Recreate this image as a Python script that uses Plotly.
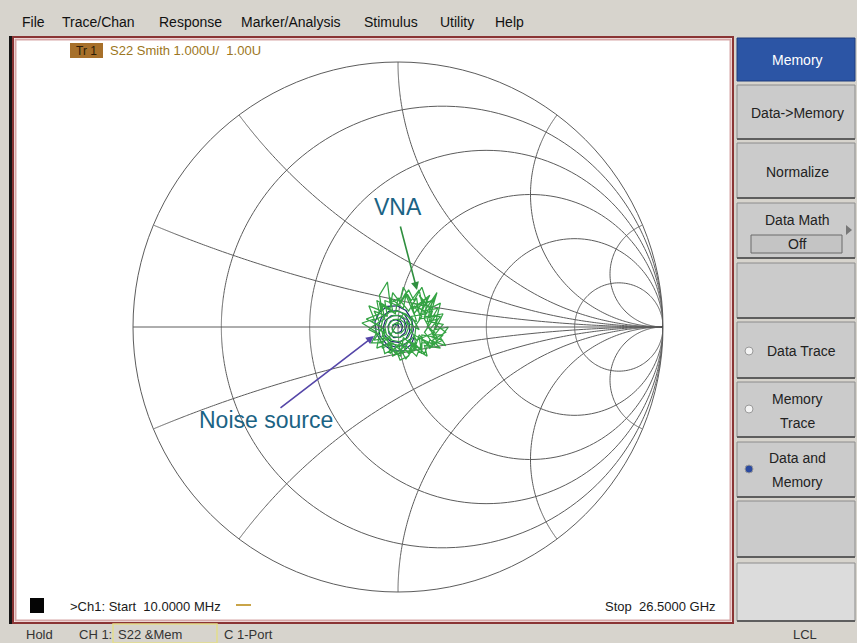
import numpy as np
import plotly.graph_objects as go

W, H = 857, 643

# ---------------- data (reflection coefficient S22) ----------------
# Memory trace ("Noise source"), navy
mem_re = [0.005, 0.000, -0.014, -0.022, -0.018, -0.004, 0.012, 0.018, 0.010, -0.008, -0.028, -0.038,
          -0.034, -0.016, 0.008, 0.026, 0.032, 0.022, 0.000, -0.026, -0.048, -0.056, -0.050, -0.028,
          0.002, 0.030, 0.044, 0.042, 0.024, -0.004, -0.036, -0.062, -0.074, -0.068, -0.044, -0.010,
          0.024, 0.048, 0.058, 0.052, 0.030, -0.004, -0.040, -0.070, -0.087, -0.082, -0.058, -0.020,
          0.020, 0.050, 0.064]
mem_im = [-0.005, 0.008, 0.010, -0.002, -0.018, -0.024, -0.016, 0.002, 0.020, 0.028, 0.022, 0.002,
          -0.024, -0.040, -0.038, -0.022, 0.004, 0.030, 0.044, 0.042, 0.024, -0.002, -0.032, -0.054,
          -0.058, -0.044, -0.016, 0.018, 0.048, 0.062, 0.058, 0.036, 0.004, -0.034, -0.064, -0.076,
          -0.068, -0.044, -0.010, 0.028, 0.062, 0.080, 0.078, 0.056, 0.020, -0.024, -0.064, -0.090,
          -0.090, -0.066, -0.030]

# Data trace ("VNA"), green
data_re = [0.015, 0.010, -0.005, -0.020, -0.022, -0.008, 0.012, 0.026, 0.024, 0.006, -0.018, -0.034,
           -0.036, -0.020, 0.006, 0.030, 0.040, 0.034, 0.012, -0.016, -0.040, -0.050, -0.044, -0.022,
           0.008, 0.036, 0.052, 0.052, 0.032, 0.000, -0.032, -0.056, -0.064, -0.056, -0.030, 0.006,
           0.040, 0.064, 0.068,
           0.090, 0.060, 0.100, 0.147, 0.120, 0.170, 0.140, 0.190, 0.160, 0.180, 0.120, 0.100, 0.060,
           0.040, 0.008, -0.010, -0.050, -0.060, -0.100, -0.080, -0.136, -0.090, -0.110, -0.060, -0.070,
           -0.040, -0.030, 0.010, 0.020, 0.050, 0.080, 0.090, 0.130, 0.110, 0.150, 0.130, 0.170, 0.120,
           0.080, 0.060, 0.020, -0.020, -0.030, -0.080, -0.070, -0.110, -0.070, -0.090, -0.040, -0.050,
           0.000, 0.030, 0.060, 0.110, 0.100, 0.150, 0.090, 0.070, 0.030, -0.010, -0.040,
           0.020, 0.070, 0.050, 0.100, 0.080, 0.120, 0.160, 0.140, 0.180, 0.130, 0.160, 0.100, 0.110,
           0.060, 0.030, 0.000, -0.030, -0.040, -0.090, -0.060, -0.120, -0.070, -0.080, -0.030, -0.020,
           0.010, 0.040, 0.060, 0.090, 0.110, 0.140, 0.100, 0.160, 0.120, 0.150, 0.090, 0.090, 0.040,
           0.020, -0.020, -0.060, -0.050, -0.100, -0.050, -0.060, -0.010, 0.000, 0.040, 0.070, 0.080,
           0.130, 0.110, 0.140, 0.070,
           0.030, 0.080, 0.050, 0.110, 0.070, 0.120, 0.090, 0.150, 0.120, 0.170, 0.130, 0.170, 0.120,
           0.080, 0.090, 0.050, 0.040, 0.010, -0.020, -0.030, -0.070, -0.050, -0.100, -0.060, -0.070,
           -0.020, -0.030, 0.020, 0.030, 0.060, 0.100, 0.080, 0.140, 0.100, 0.140, 0.060, 0.070, 0.020,
           0.010, -0.040]
data_im = [-0.005, 0.010, 0.016, 0.008, -0.010, -0.024, -0.022, -0.006, 0.016, 0.030, 0.028, 0.010,
           -0.014, -0.036, -0.040, -0.028, -0.002, 0.026, 0.042, 0.044, 0.030, 0.002, -0.028, -0.050,
           -0.056, -0.042, -0.014, 0.020, 0.048, 0.060, 0.056, 0.034, 0.000, -0.036, -0.062, -0.070,
           -0.058, -0.030, 0.008,
           0.040, 0.080, 0.060, 0.130, 0.040, 0.050, -0.010, 0.000, -0.040, -0.070, -0.050, -0.100, -0.060,
           -0.110, -0.125, -0.080, -0.100, -0.060, -0.060, -0.020, 0.015, 0.030, 0.080, 0.060, 0.120,
           0.170, 0.090, 0.110, 0.150, 0.100, 0.140, 0.090, 0.100, 0.020, 0.030, -0.030, -0.030, -0.080,
           -0.030, -0.090, -0.090, -0.110, -0.060, -0.080, -0.030, -0.010, 0.020, 0.060, 0.040, 0.100,
           0.080, 0.130, 0.070, 0.110, 0.030, -0.060, -0.060, -0.110, -0.070, -0.100, -0.050,
           0.050, 0.020, 0.090, 0.080, 0.120, 0.070, 0.090, 0.010, -0.020, -0.050, -0.080, -0.070, -0.110,
           -0.080, -0.120, -0.070, -0.100, -0.040, -0.050, 0.000, 0.030, 0.050, 0.100, 0.070, 0.130,
           0.090, 0.140, 0.100, 0.150, 0.090, 0.110, 0.040, 0.040, -0.010, -0.040, -0.030, -0.090, -0.050,
           -0.100, -0.060, -0.080, -0.020, 0.000, 0.030, 0.080, 0.050, 0.110, 0.060, 0.110, 0.050,
           0.060, 0.000, -0.020, -0.050,
           0.020, -0.010, 0.040, 0.050, 0.080, 0.120, 0.060, 0.070, 0.020, 0.010, -0.040, -0.050, -0.070,
           -0.040, -0.100, -0.070, -0.100, -0.060, -0.090, -0.040, -0.060, -0.010, 0.020, 0.040, 0.090,
           0.060, 0.110, 0.070, 0.120, 0.050, 0.100, 0.030, 0.040, -0.020, -0.070, -0.030, -0.080, -0.040,
           -0.110, -0.070]

# Smith grid values: constant-resistance circles and constant-reactance arcs
grid_r = [0.2, 0.5, 1, 2, 5]
grid_x = [0.2, 0.5, 1, 2, 5]

menu_items = ["File", "Trace/Chan", "Response", "Marker/Analysis", "Stimulus", "Utility", "Help"]


def to_z(re, im):
    g = np.array(re) + 1j * np.array(im)
    z = (1 + g) / (1 - g)
    return z.real, z.imag


# ---------------- helpers for pixel placement ----------------
def px(x):
    return x / W


def py(y):
    return 1 - y / H


shapes = []
annotations = []


def rect(x0, y0, x1, y1, fill=None, line=None, lw=1, layer="below"):
    shapes.append(dict(type="rect", xref="paper", yref="paper",
                       x0=px(x0), x1=px(x1), y0=py(y1), y1=py(y0),
                       fillcolor=fill if fill else "rgba(0,0,0,0)",
                       line=dict(color=line if line else "rgba(0,0,0,0)", width=lw if line else 0),
                       layer=layer))


def text(x, y, s, size=13, color="#222", anchor="left", family="Liberation Sans, Arial, sans-serif"):
    annotations.append(dict(x=px(x), y=py(y), xref="paper", yref="paper", text=s, showarrow=False,
                            xanchor=anchor, yanchor="middle",
                            font=dict(size=size, color=color, family=family)))


# ---------------- window chrome ----------------
rect(0, 0, W, 37, fill="#d7d4cd")
mx = [20, 60, 157, 239, 362, 438, 493]
for s, x in zip(menu_items, mx):
    text(x, 22, s, size=14, color="#111")

rect(9, 36, 13, 624, fill="#151515")
rect(13, 37, 733, 623, fill="#ffffff", line="#8a3434", lw=2)
rect(15.5, 39.5, 730.5, 620.5, line="#d7a8a8", lw=2)

buttons = [(38, 81), (85, 139), (143, 198), (203, 258), (263, 318), (322, 378), (382, 437),
           (442, 497), (501, 557), (563, 621)]
for i, (y0, y1) in enumerate(buttons):
    if i == 0:
        rect(737, y0, 855, y1, fill="#2c55a5", line="#1f3d7c", lw=1)
    else:
        fill = "#dcdcdc" if i == len(buttons) - 1 else "#cbcbcb"
        rect(737, y0, 855, y1, fill=fill, line="#8c8c8c", lw=1)
        shapes.append(dict(type="line", xref="paper", yref="paper", x0=px(737), x1=px(855),
                           y0=py(y1), y1=py(y1), line=dict(color="#5e5e5e", width=2), layer="below"))

text(797, 60, "Memory", size=14, color="#ffffff", anchor="center")
text(797, 113, "Data-&gt;Memory", size=14, anchor="center")
text(797, 172, "Normalize", size=14, anchor="center")
text(797, 220, "Data Math", size=14, anchor="center")
rect(751, 235, 842, 253, fill="#c4c4c4", line="#6a6a6a", lw=1)
text(797, 244, "Off", size=14, anchor="center")
shapes.append(dict(type="path", xref="paper", yref="paper",
                   path=f"M {px(846)},{py(225)} L {px(852)},{py(230)} L {px(846)},{py(235)} Z",
                   fillcolor="#777777", line=dict(width=0)))
text(801, 351, "Data Trace", size=14, anchor="center")
text(797, 399, "Memory", size=14, anchor="center")
text(797, 423, "Trace", size=14, anchor="center")
text(797, 458, "Data and", size=14, anchor="center")
text(797, 482, "Memory", size=14, anchor="center")
for (cy, fill) in [(351, "#f4f4f4"), (409, "#f4f4f4"), (469, "#2b4aa0")]:
    shapes.append(dict(type="circle", xref="paper", yref="paper",
                       x0=px(745), x1=px(753), y0=py(cy + 4), y1=py(cy - 4),
                       fillcolor=fill, line=dict(color="#9a9a9a", width=1)))

rect(70, 43, 103, 58, fill="#a7702a")
text(86.5, 50.5, "Tr 1", size=12, color="#2b1d08", anchor="center")
text(108, 50.5, "S22 Smith 1.000U/  1.00U", size=13, color="#9c7622")

rect(30, 598, 44, 613, fill="#050505")
text(68, 606, "&gt;Ch1: Start  10.0000 MHz", size=13, color="#1a1a1a")
shapes.append(dict(type="line", xref="paper", yref="paper", x0=px(236), x1=px(251),
                   y0=py(605), y1=py(605), line=dict(color="#c9a448", width=2)))
text(718, 606, "Stop  26.5000 GHz", size=13, color="#1a1a1a", anchor="right")

rect(113, 624, 217, 643, line="#e4dd8a", lw=1.5)
text(24, 634, "Hold", size=13, color="#333")
text(77, 634, "CH 1:", size=13, color="#333")
text(116, 634, "S22 &amp;Mem", size=13, color="#333")
text(222, 634, "C 1-Port", size=13, color="#333")
text(805, 634, "LCL", size=13, color="#333", anchor="center")

text(398, 207, "VNA", size=23, color="#1b6384", anchor="center")
text(266, 420, "Noise source", size=23, color="#1b6384", anchor="center")
annotations.append(dict(x=px(417), y=py(290), xref="paper", yref="paper", text="", showarrow=True,
                        ax=-17, ay=-65, arrowhead=2, arrowsize=1, arrowwidth=1.6, arrowcolor="#2f8f3f"))
annotations.append(dict(x=px(374), y=py(336), xref="paper", yref="paper", text="", showarrow=True,
                        ax=-95, ay=73, arrowhead=2, arrowsize=1, arrowwidth=1.6, arrowcolor="#5546a8"))

# ---------------- Smith grid (full circles / arcs, as on the instrument) ----------------
fig = go.Figure()
GRID = "#5c5c5c"
sweep = np.logspace(-3, 4, 400)
for r in grid_r:
    xs = np.concatenate([-sweep[::-1], [0.0], sweep])
    fig.add_trace(go.Scattersmith(real=np.full_like(xs, r), imag=xs, mode="lines",
                                  line=dict(color=GRID, width=1), hoverinfo="skip"))
for xv in grid_x:
    rs = np.concatenate([[0.0], sweep])
    for sgn in (1, -1):
        fig.add_trace(go.Scattersmith(real=rs, imag=np.full_like(rs, sgn * xv), mode="lines",
                                      line=dict(color=GRID, width=1), hoverinfo="skip"))

# ---------------- traces ----------------
mr, mi = to_z(mem_re, mem_im)
dr, di = to_z(data_re, data_im)
fig.add_trace(go.Scattersmith(real=mr, imag=mi, mode="lines", name="Memory",
                              line=dict(color="#1f2870", width=1.2)))
fig.add_trace(go.Scattersmith(real=dr, imag=di, mode="lines", name="Data",
                              line=dict(color="#34a343", width=1.25)))

axis_common = dict(showticklabels=False, ticks="", showgrid=False,
                   linecolor=GRID, linewidth=1, showline=True)
fig.update_layout(
    width=W, height=H,
    margin=dict(l=0, r=0, t=0, b=0),
    paper_bgcolor="#d7d4cd",
    showlegend=False,
    shapes=shapes,
    annotations=annotations,
    smith=dict(
        domain=dict(x=[133 / W, 663 / W], y=[1 - 592 / H, 1 - 62 / H]),
        bgcolor="rgba(255,255,255,0)",
        realaxis=dict(tickvals=grid_r, **axis_common),
        imaginaryaxis=dict(tickvals=grid_x, **axis_common),
    ),
)

fig.write_html("out.html", config={"displayModeBar": False},
               post_script="document.body.style.margin='0px';document.body.style.overflow='hidden';")
